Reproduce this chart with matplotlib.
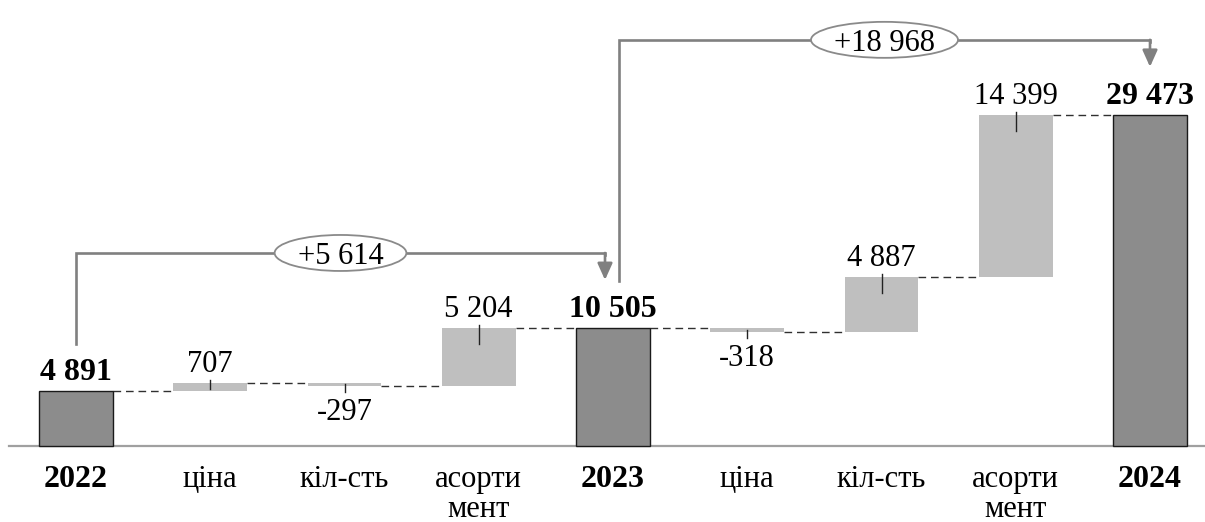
import matplotlib
matplotlib.use("Agg")
import matplotlib.pyplot as plt
from matplotlib.patches import Ellipse

# ---- data -------------------------------------------------------------
categories = ["2022", "ціна", "кіл-сть", "асорти\nмент", "2023",
              "ціна", "кіл-сть", "асорти\nмент", "2024"]
values = [4891, 707, -297, 5204, 10505, -318, 4887, 14399, 29473]
is_total = [True, False, False, False, True, False, False, False, True]
# brackets showing the change between two totals (start index, end index)
changes = [(0, 4), (4, 8)]


def fmt(v, sign=False):
    s = f"{abs(v):,}".replace(",", " ")
    if v < 0:
        s = "-" + s
    elif sign:
        s = "+" + s
    return s


# ---- layout -----------------------------------------------------------
W, H, DPI = 1205, 522, 100
VPP = 89.0            # value units per pixel
BASE_PX = 76          # baseline height above the bottom edge, px
STEP = 134.25         # pixels between bar centres
X0_PX = 76            # centre of the first bar, px

plt.rcParams["font.family"] = ["Liberation Serif", "DejaVu Serif"]

fig = plt.figure(figsize=(W / DPI, H / DPI), dpi=DPI)
ax = fig.add_axes([0, 0, 1, 1])
ax.set_xlim(-X0_PX / STEP, (W - X0_PX) / STEP)
ax.set_ylim(-BASE_PX * VPP, (H - BASE_PX) * VPP)
ax.axis("off")


def py(px):
    return px * VPP


def px_x(px):
    return px / STEP


TOTAL_C = "#8c8c8c"
DELTA_C = "#bfbfbf"
LINE_C = "#808080"
FS = 22
FS_B = 23

# ---- bars -------------------------------------------------------------
bottoms, heights, tops, ends = [], [], [], []
cum = 0
for v, tot in zip(values, is_total):
    if tot:
        b, h = 0, v
        cum = v
    else:
        b = cum if v >= 0 else cum + v
        h = abs(v)
        cum += v
    bottoms.append(b)
    heights.append(h)
    tops.append(b + h)
    ends.append(cum)

xs = list(range(len(values)))
BW = 0.55
for i in xs:
    if is_total[i]:
        ax.bar(i, heights[i], bottom=bottoms[i], width=BW, color=TOTAL_C,
               edgecolor="#1a1a1a", linewidth=1.0, zorder=3)
    else:
        ax.bar(i, heights[i], bottom=bottoms[i], width=BW, color=DELTA_C,
               edgecolor="none", zorder=3)

# baseline
ax.axhline(0, xmin=9 / W, xmax=1, color="#a0a0a0", lw=1.6, zorder=2)

# dashed connectors
for i in xs[:-1]:
    ax.plot([i + BW / 2, i + 1 - BW / 2], [ends[i], ends[i]],
            color="#303030", lw=1.0, dashes=(5.5, 3.5), zorder=2)

# value labels and small markers on delta bars
for i in xs:
    v = values[i]
    if is_total[i]:
        ax.text(i, tops[i] + py(11), fmt(v), ha="center", va="baseline",
                fontsize=FS_B, fontweight="bold", zorder=5)
    elif v >= 0:
        top = tops[i]
        hpx = heights[i] / VPP
        ax.plot([i, i], [top + py(3), top - py(min(16, hpx - 2))],
                color="#222222", lw=1.0, zorder=4)
        ax.text(i, top + py(11), fmt(v), ha="center", va="baseline",
                fontsize=FS, zorder=5)
    else:
        bot = bottoms[i]
        ax.plot([i, i], [bot + py(2), bot - py(6)],
                color="#222222", lw=1.0, zorder=4)
        ax.text(i, bot - py(34), fmt(v), ha="center", va="baseline",
                fontsize=FS, zorder=5)

# category labels
for i, c in enumerate(categories):
    weight = "bold" if is_total[i] else "normal"
    size = FS_B if is_total[i] else FS
    for k, line in enumerate(c.split("\n")):
        ax.text(i, -py(41 + 30 * k), line, ha="center", va="baseline",
                fontsize=size, fontweight=weight)

# change brackets
starts_used = {s for s, _ in changes}
ends_used = {e for _, e in changes}
fig.canvas.draw()
renderer = fig.canvas.get_renderer()
for s, e in changes:
    xs_ = s + (px_x(6) if s in ends_used else 0)
    xe_ = e - (px_x(8) if e in starts_used else 0)
    y0 = tops[s] + py(47)
    level = tops[e] + py(75)
    tip = tops[e] + py(48)
    ax.plot([xs_, xs_, xe_, xe_], [y0, level, level, level - py(2)],
            color=LINE_C, lw=1.9, solid_joinstyle="miter", zorder=3)
    ax.annotate("", xy=(xe_, tip), xytext=(xe_, level),
                arrowprops=dict(arrowstyle="-|>,head_length=1.0,head_width=0.45",
                                color=LINE_C, lw=1.9, shrinkA=0, shrinkB=0),
                zorder=3)
    xm = (xs_ + xe_) / 2
    label = fmt(values[e] - values[s], sign=True)
    t = ax.text(xm, level, label, ha="center", va="center_baseline",
                fontsize=FS, zorder=6)
    wpx = t.get_window_extent(renderer).width
    ax.add_patch(Ellipse((xm, level), px_x(wpx + 46), py(36),
                         facecolor="white", edgecolor="#8a8a8a", lw=1.3,
                         zorder=5))

fig.savefig("out.png", dpi=DPI)
